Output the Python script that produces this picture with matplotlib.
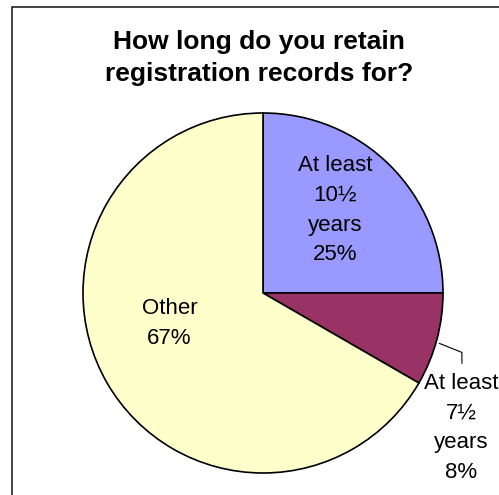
import matplotlib
matplotlib.use("Agg")
import matplotlib.pyplot as plt
from matplotlib.patches import Rectangle

plt.rcParams['font.family'] = ['Liberation Sans', 'DejaVu Sans']

# data (counts out of 12 -> 25%, 8%, 67%)
labels = ['At least\n10½\nyears', 'At least\n7½\nyears', 'Other']
values = [3, 1, 8]
colors = ['#9999FF', '#993366', '#FFFFCC']
title = 'How long do you retain\nregistration records for?'

W, H = 499, 495
cx, cy, R = 263, 293, 180   # pie centre / radius in pixels

fig = plt.figure(figsize=(W / 100, H / 100), dpi=100)
ax = fig.add_axes([0, 0, 1, 1])
ax.axis('off')

# outer chart border (clipped on right and bottom like the original)
fig.patches.append(Rectangle((12 / W, -0.1), 1.0, 1 - 7 / H + 0.1,
                             transform=fig.transFigure, fill=False,
                             edgecolor='#222222', linewidth=1.2))

wedges, _ = ax.pie(values, colors=colors, startangle=90, counterclock=False,
                   radius=1.0, wedgeprops=dict(edgecolor='black', linewidth=1.2))
ax.set_xlim(-cx / R, (W - cx) / R)
ax.set_ylim(-(H - cy) / R, cy / R)
ax.set_aspect('auto')

total = sum(values)
pct = [f'{v / total * 100:.0f}%' for v in values]
fs = 16
ls = 1.55

ax.text(0.40, 0.46, f'{labels[0]}\n{pct[0]}', ha='center', va='center',
        fontsize=fs, linespacing=ls)
ax.text(-0.52, -0.17, f'{labels[2]}\n{pct[2]}', ha='center', va='center',
        fontsize=fs, linespacing=ls)
ax.text(1.10, -0.75, f'{labels[1]}\n{pct[1]}', ha='center', va='center',
        fontsize=fs, linespacing=ls)

# leader line for the small slice
ax.plot([0.98, 1.105, 1.105], [-0.28, -0.33, -0.39], color='black', lw=0.8)

fig.text(259 / W, 1 - 58 / H, title, ha='center', va='center',
         fontsize=19, fontweight='bold', linespacing=1.45)

fig.savefig('out.png', dpi=100)
